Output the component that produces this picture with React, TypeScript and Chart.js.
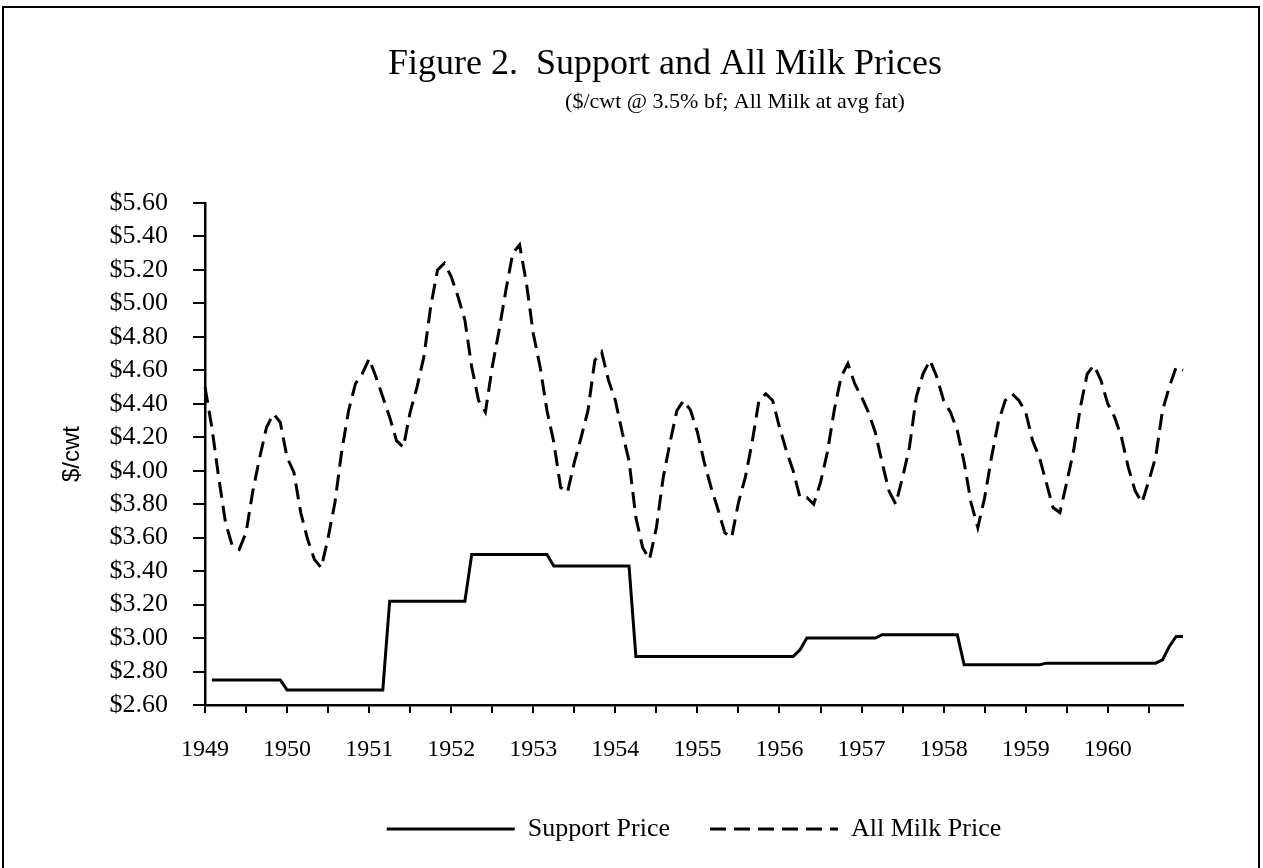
import React, { useEffect, useRef } from "react";
import { Chart, registerables } from "chart.js";

Chart.register(...registerables);

const TITLE = "Figure 2.  Support and All Milk Prices";
const SUBTITLE = "($/cwt @ 3.5% bf; All Milk at avg fat)";
const Y_TITLE = "$/cwt";

const YEARS = [1949, 1950, 1951, 1952, 1953, 1954, 1955, 1956, 1957, 1958, 1959, 1960];
const MONTHS = ["Jan", "Feb", "Mar", "Apr", "May", "Jun", "Jul", "Aug", "Sep", "Oct", "Nov", "Dec"];
const LABELS = YEARS.flatMap((y) => MONTHS.map((m) => `${m} ${y}`));

const Y_MIN = 2.6;
const Y_MAX = 5.6;
const Y_STEP = 0.2;

// Support price, $/cwt (monthly, Jan 1949 - Dec 1960)
const SUPPORT_1949 = [null, 2.75, 2.75, 2.75, 2.75, 2.75, 2.75, 2.75, 2.75, 2.75, 2.75, 2.75];
const SUPPORT_1950 = [2.69, 2.69, 2.69, 2.69, 2.69, 2.69, 2.69, 2.69, 2.69, 2.69, 2.69, 2.69];
const SUPPORT_1951 = [2.69, 2.69, 2.69, 3.22, 3.22, 3.22, 3.22, 3.22, 3.22, 3.22, 3.22, 3.22];
const SUPPORT_1952 = [3.22, 3.22, 3.22, 3.5, 3.5, 3.5, 3.5, 3.5, 3.5, 3.5, 3.5, 3.5];
const SUPPORT_1953 = [3.5, 3.5, 3.5, 3.43, 3.43, 3.43, 3.43, 3.43, 3.43, 3.43, 3.43, 3.43];
const SUPPORT_1954 = [3.43, 3.43, 3.43, 2.89, 2.89, 2.89, 2.89, 2.89, 2.89, 2.89, 2.89, 2.89];
const SUPPORT_1955 = [2.89, 2.89, 2.89, 2.89, 2.89, 2.89, 2.89, 2.89, 2.89, 2.89, 2.89, 2.89];
const SUPPORT_1956 = [2.89, 2.89, 2.89, 2.93, 3.0, 3.0, 3.0, 3.0, 3.0, 3.0, 3.0, 3.0];
const SUPPORT_1957 = [3.0, 3.0, 3.0, 3.02, 3.02, 3.02, 3.02, 3.02, 3.02, 3.02, 3.02, 3.02];
const SUPPORT_1958 = [3.02, 3.02, 3.02, 2.84, 2.84, 2.84, 2.84, 2.84, 2.84, 2.84, 2.84, 2.84];
const SUPPORT_1959 = [2.84, 2.84, 2.84, 2.85, 2.85, 2.85, 2.85, 2.85, 2.85, 2.85, 2.85, 2.85];
const SUPPORT_1960 = [2.85, 2.85, 2.85, 2.85, 2.85, 2.85, 2.85, 2.85, 2.87, 2.95, 3.01, 3.01];

// All milk price, $/cwt (monthly, Jan 1949 - Dec 1960)
const ALLMILK_1949 = [4.5, 4.26, 3.96, 3.69, 3.55, 3.53, 3.63, 3.88, 4.08, 4.26, 4.34, 4.29];
const ALLMILK_1950 = [4.08, 3.99, 3.75, 3.59, 3.47, 3.42, 3.6, 3.81, 4.12, 4.36, 4.52, 4.58];
const ALLMILK_1951 = [4.67, 4.56, 4.44, 4.32, 4.18, 4.14, 4.35, 4.5, 4.68, 4.98, 5.2, 5.24];
const ALLMILK_1952 = [5.16, 5.04, 4.9, 4.62, 4.42, 4.35, 4.62, 4.84, 5.08, 5.3, 5.35, 5.12];
const ALLMILK_1953 = [4.82, 4.62, 4.36, 4.17, 3.9, 3.87, 4.05, 4.2, 4.36, 4.66, 4.71, 4.54];
const ALLMILK_1954 = [4.42, 4.23, 4.06, 3.72, 3.54, 3.47, 3.66, 3.96, 4.17, 4.36, 4.42, 4.36];
const ALLMILK_1955 = [4.23, 4.05, 3.9, 3.77, 3.63, 3.6, 3.81, 3.96, 4.17, 4.42, 4.46, 4.42];
const ALLMILK_1956 = [4.26, 4.12, 4.0, 3.84, 3.84, 3.8, 3.93, 4.11, 4.36, 4.56, 4.64, 4.52];
const ALLMILK_1957 = [4.44, 4.35, 4.23, 4.05, 3.88, 3.8, 3.96, 4.14, 4.44, 4.58, 4.66, 4.56];
const ALLMILK_1958 = [4.42, 4.35, 4.24, 4.05, 3.81, 3.66, 3.84, 4.08, 4.29, 4.42, 4.46, 4.42];
const ALLMILK_1959 = [4.35, 4.18, 4.08, 3.93, 3.78, 3.75, 3.93, 4.12, 4.38, 4.58, 4.63, 4.54];
const ALLMILK_1960 = [4.4, 4.32, 4.2, 4.02, 3.88, 3.81, 3.94, 4.08, 4.36, 4.5, 4.62, 4.6];

const SUPPORT = [
  ...SUPPORT_1949, ...SUPPORT_1950, ...SUPPORT_1951, ...SUPPORT_1952,
  ...SUPPORT_1953, ...SUPPORT_1954, ...SUPPORT_1955, ...SUPPORT_1956,
  ...SUPPORT_1957, ...SUPPORT_1958, ...SUPPORT_1959, ...SUPPORT_1960,
];
const ALLMILK = [
  ...ALLMILK_1949, ...ALLMILK_1950, ...ALLMILK_1951, ...ALLMILK_1952,
  ...ALLMILK_1953, ...ALLMILK_1954, ...ALLMILK_1955, ...ALLMILK_1956,
  ...ALLMILK_1957, ...ALLMILK_1958, ...ALLMILK_1959, ...ALLMILK_1960,
];

const SERIF = '"Liberation Serif", "Times New Roman", serif';
const SANS = '"Liberation Sans", Arial, sans-serif';

const headerPlugin = {
  id: "headerText",
  afterDraw(chart: any) {
    const { ctx, chartArea } = chart;
    const cx = (chartArea.left + chartArea.right) / 2;
    ctx.save();
    ctx.fillStyle = "#000";
    ctx.textAlign = "center";
    ctx.textBaseline = "alphabetic";
    ctx.font = `36px ${SERIF}`;
    ctx.fillText(TITLE, cx - 29, 74);
    ctx.font = `22px ${SERIF}`;
    ctx.fillText(SUBTITLE, cx + 41, 108);
    ctx.restore();
  },
};

export default function App() {
  const ref = useRef<HTMLCanvasElement | null>(null);

  useEffect(() => {
    if (!ref.current) return;
    const chart = new Chart(ref.current, {
      type: "line",
      data: {
        labels: LABELS,
        datasets: [
          {
            label: "Support Price",
            data: SUPPORT,
            borderColor: "#000",
            backgroundColor: "#000",
            borderWidth: 3,
            pointRadius: 0,
            tension: 0,
            spanGaps: false,
          },
          {
            label: "All Milk Price",
            data: ALLMILK,
            borderColor: "#000",
            backgroundColor: "#000",
            borderWidth: 3,
            borderDash: [16, 8],
            pointRadius: 0,
            tension: 0,
          },
        ],
      },
      options: {
        responsive: false,
        animation: false,
        devicePixelRatio: 1,
        layout: { padding: { top: 203, bottom: 16, left: 0, right: 0 } },
        plugins: {
          title: { display: false },
          tooltip: { enabled: false },
          legend: {
            display: true,
            position: "bottom",
            fullSize: false,
            labels: {
              color: "#000",
              font: { family: SERIF, size: 26 },
              usePointStyle: false,
              boxWidth: 128,
              boxHeight: 0,
              padding: 40,
            },
          },
        },
        scales: {
          x: {
            type: "category",
            offset: false,
            afterFit: (s: any) => {
              s.height = 71;
            },
            border: { display: true, color: "#000", width: 2.5 },
            grid: {
              drawOnChartArea: false,
              drawTicks: true,
              tickLength: 8,
              lineWidth: 2,
              tickColor: (c: any) => (c.index % 6 === 0 ? "#000" : "rgba(0,0,0,0)"),
            },
            ticks: {
              autoSkip: false,
              maxRotation: 0,
              minRotation: 0,
              color: "#000",
              padding: 22,
              font: { family: SERIF, size: 24 },
              callback: (_v: any, i: number) => (i % 12 === 0 ? String(YEARS[i / 12]) : ""),
            },
          },
          y: {
            type: "linear",
            position: "left",
            min: Y_MIN,
            max: Y_MAX,
            afterFit: (s: any) => {
              s.width = 205;
            },
            border: { display: true, color: "#000", width: 2.5 },
            grid: {
              drawOnChartArea: false,
              drawTicks: true,
              tickLength: 12,
              lineWidth: 2,
              tickColor: "#000",
            },
            ticks: {
              stepSize: Y_STEP,
              autoSkip: false,
              color: "#000",
              padding: 25,
              font: { family: SERIF, size: 26 },
              callback: (v: any) => "$" + Number(v).toFixed(2),
            },
            title: {
              display: true,
              text: Y_TITLE,
              color: "#000",
              font: { family: SANS, size: 24 },
              padding: { top: 58, bottom: 0 },
            },
          },
          yRight: {
            type: "linear",
            position: "right",
            display: true,
            afterFit: (s: any) => {
              s.width = 80;
            },
            border: { display: false },
            grid: { display: false, drawTicks: false },
            ticks: { display: false },
          },
        },
      },
      plugins: [headerPlugin],
    } as any);
    return () => chart.destroy();
  }, []);

  return (
    <div style={{ position: "absolute", left: 0, top: 0, width: 1263, height: 868, background: "#fff", overflow: "hidden" }}>
      <div
        style={{
          position: "absolute",
          left: 2,
          top: 6,
          width: 1258,
          height: 900,
          borderLeft: "2px solid #000",
          borderTop: "2px solid #000",
          borderRight: "2px solid #000",
          boxSizing: "border-box",
        }}
      />
      <canvas ref={ref} width={1263} height={868} style={{ position: "absolute", left: 0, top: 0, display: "block" }} />
    </div>
  );
}
